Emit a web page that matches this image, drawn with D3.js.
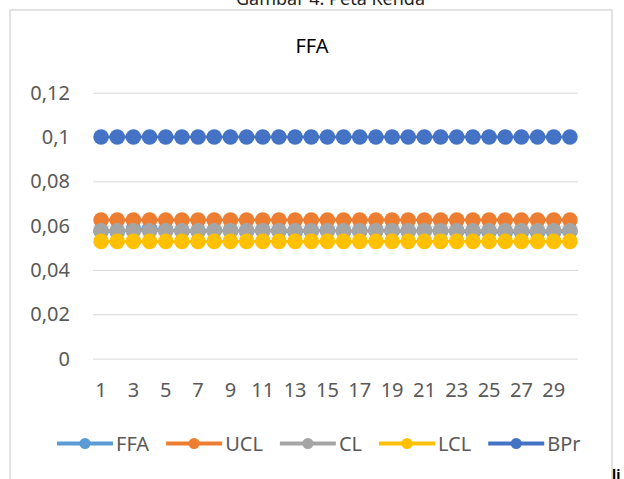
<!DOCTYPE html>
<html>
<head>
<meta charset="utf-8">
<script src="https://cdn.jsdelivr.net/npm/d3@7"></script>
<style>
  body { margin: 0; background: #fff; }
  text { font-family: "Noto Sans", sans-serif; }
</style>
</head>
<body>
<svg id="myGraph" width="624" height="479"></svg>
<script>
// data
var samples = d3.range(1, 31);
var ffa = [0.0575, 0.0572, 0.0584, 0.0586, 0.0580, 0.0576, 0.0574, 0.0578, 0.0577, 0.0575,
           0.0579, 0.0576, 0.0573, 0.0577, 0.0578, 0.0575, 0.0576, 0.0579, 0.0577, 0.0574,
           0.0578, 0.0576, 0.0575, 0.0570, 0.0572, 0.0571, 0.0573, 0.0570, 0.0572, 0.0574];
var ucl = samples.map(function() { return 0.0625; });
var cl = samples.map(function() { return 0.0577; });
var lcl = samples.map(function() { return 0.0529; });
var bpr = samples.map(function() { return 0.1; });
var seriesNames = ['FFA', 'UCL', 'CL', 'LCL', 'BPr'];
var yTicks = [0, 0.02, 0.04, 0.06, 0.08, 0.1, 0.12];

var colors = ['#5B9BD5', '#ED7D31', '#A5A5A5', '#FFC000', '#4472C4'];
var seriesData = [ffa, ucl, cl, lcl, bpr];

var svg = d3.select('#myGraph');

// caption (cut at the top) and frame
svg.append('text')
  .attr('x', 236).attr('y', 5)
  .style('font-size', '18px').style('fill', '#222')
  .text('Gambar 4. Peta Kenda');

svg.append('rect')
  .attr('x', 10).attr('y', 10)
  .attr('width', 602).attr('height', 480)
  .style('fill', '#fff').style('stroke', '#d9d9d9').style('stroke-width', 1.5);

svg.append('text')
  .attr('x', 312).attr('y', 53)
  .attr('text-anchor', 'middle')
  .style('font-size', '20px').style('fill', '#000')
  .text('FFA');

// scales
var x = d3.scaleBand().domain(samples).range([93, 578]);
var y = d3.scaleLinear().domain([0, 0.12]).range([358.6, 92.7]);
var fmt = function(d) { return String(d).replace('.', ','); };

// grid + y labels
var yAxis = svg.append('g')
  .attr('transform', 'translate(93,0)')
  .call(d3.axisLeft(y).tickValues(yTicks).tickSize(-485).tickPadding(23).tickFormat(fmt));
yAxis.select('.domain').remove();
yAxis.selectAll('line').style('stroke', '#d9d9d9').style('stroke-width', 1);
yAxis.selectAll('text')
  .style('font-size', '20px').style('fill', '#595959')
  .style('font-family', '"Noto Sans", sans-serif');

// x labels (every other)
var xAxis = svg.append('g')
  .attr('transform', 'translate(0,358.6)')
  .call(d3.axisBottom(x).tickSize(0).tickPadding(24)
    .tickValues(samples.filter(function(d) { return d % 2 === 1; })));
xAxis.select('.domain').remove();
xAxis.selectAll('text')
  .style('font-size', '20px').style('fill', '#595959')
  .style('font-family', '"Noto Sans", sans-serif');

// lines with markers
var line = d3.line()
  .x(function(d, i) { return x(samples[i]) + x.bandwidth() / 2; })
  .y(function(d) { return y(d); });

seriesData.forEach(function(vals, s) {
  var g = svg.append('g');
  g.append('path')
    .datum(vals)
    .attr('d', line)
    .style('fill', 'none')
    .style('stroke', colors[s])
    .style('stroke-width', 3);
  g.selectAll('circle')
    .data(vals)
    .enter()
    .append('circle')
    .attr('cx', function(d, i) { return x(samples[i]) + x.bandwidth() / 2; })
    .attr('cy', function(d) { return y(d); })
    .attr('r', 7.8)
    .style('fill', colors[s]);
});

// legend
var legend = svg.append('g').attr('transform', 'translate(0,443.5)');
var lx = 57;
seriesNames.forEach(function(name, s) {
  var item = legend.append('g');
  item.append('line')
    .attr('x1', lx).attr('x2', lx + 56)
    .attr('y1', 0).attr('y2', 0)
    .style('stroke', colors[s]).style('stroke-width', 4);
  item.append('circle')
    .attr('cx', lx + 28).attr('cy', 0).attr('r', 5.5)
    .style('fill', colors[s]);
  var t = item.append('text')
    .attr('x', lx + 59).attr('y', 7)
    .style('font-size', '20px').style('fill', '#595959')
    .text(name);
  lx = lx + 59 + t.node().getComputedTextLength() + 17;
});

// stray text fragment at the lower right
svg.append('text')
  .attr('x', 612).attr('y', 480)
  .style('font-size', '14px').style('font-weight', 'bold').style('fill', '#000')
  .text('li');
</script>
</body>
</html>
